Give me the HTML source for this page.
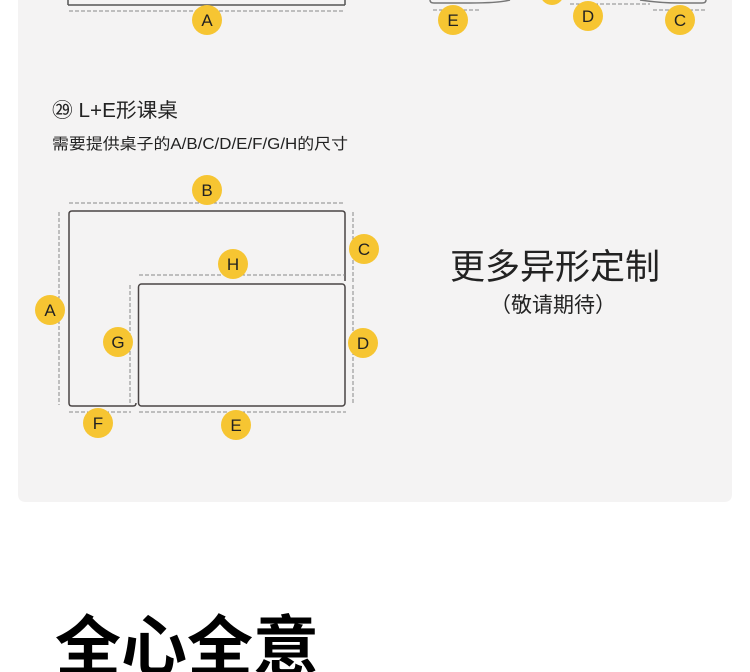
<!DOCTYPE html>
<html><head><meta charset="utf-8"><style>
html,body{margin:0;padding:0;background:#fff;width:750px;height:672px;overflow:hidden}
svg{display:block}
</style></head><body>
<svg width="750" height="672" viewBox="0 0 750 672" xmlns="http://www.w3.org/2000/svg" font-family="Liberation Sans, Noto Sans CJK SC, sans-serif">
<path d="M18,0 H732 V494 q0,8 -8,8 H26 q-8,0 -8,-8 Z" fill="#f4f3f3"/>
<g stroke="#555" fill="none">
<line x1="68" y1="5" x2="345" y2="5" stroke-width="1.5"/>
<line x1="68" y1="0" x2="68" y2="5" stroke-width="1.5"/>
<line x1="345" y1="0" x2="345" y2="5" stroke-width="1.5"/>
</g>
<g stroke="#888" stroke-dasharray="4,2" fill="none">
<line x1="69" y1="11" x2="345" y2="11"/>
<line x1="433" y1="10" x2="480" y2="10"/>
<line x1="653" y1="10" x2="707" y2="10"/>
<line x1="570" y1="4" x2="650" y2="4"/>
</g>
<path d="M430,0 q0,3 4,3 H470 q30,0 40,-3 M640,0 q20,3 40,3 H702 q4,0 4,-3" stroke="#777" fill="none" stroke-width="1.5"/>
<g stroke="#4a4545" fill="none" stroke-width="1.5">
<path d="M136,403 q0,3 -3,3 H72 q-3,0 -3,-3 V214 q0,-3 3,-3 H342 q3,0 3,3 V281"/>
<rect x="138.5" y="284" width="206.5" height="122" rx="3"/>
</g>
<g stroke="#888" stroke-dasharray="4,2" fill="none">
<line x1="69" y1="203" x2="345" y2="203"/>
<line x1="59" y1="212" x2="59" y2="405"/>
<line x1="353" y1="212" x2="353" y2="283"/>
<line x1="353" y1="285" x2="353" y2="405"/>
<line x1="139" y1="275" x2="345" y2="275"/>
<line x1="130" y1="285" x2="130" y2="405"/>
<line x1="69" y1="412" x2="131" y2="412"/>
<line x1="139" y1="412" x2="346" y2="412"/>
</g>
<g fill="#f6c532">
<circle cx="207" cy="20" r="15"/><circle cx="453" cy="20" r="15"/><circle cx="588" cy="16" r="15"/><circle cx="680" cy="20" r="15"/><circle cx="552" cy="-7" r="12"/>
<circle cx="207" cy="190" r="15"/><circle cx="364" cy="249" r="15"/><circle cx="233" cy="264" r="15"/><circle cx="50" cy="310" r="15"/>
<circle cx="118" cy="342" r="15"/><circle cx="363" cy="343" r="15"/><circle cx="98" cy="423" r="15"/><circle cx="236" cy="425" r="15"/>
</g>
<g font-size="17" fill="#222" text-anchor="middle">
<text x="207" y="26">A</text><text x="453" y="26">E</text><text x="588" y="22">D</text><text x="680" y="26">C</text>
<text x="207" y="196">B</text><text x="364" y="255">C</text><text x="233" y="270">H</text><text x="50" y="316">A</text>
<text x="118" y="348">G</text><text x="363" y="349">D</text><text x="98" y="429">F</text><text x="236" y="431">E</text>
</g>
<text x="52" y="117" font-size="20" fill="#222" textLength="126" lengthAdjust="spacingAndGlyphs">㉙ L+E形课桌</text>
<text x="52" y="149" font-size="15.5" fill="#222" textLength="296" lengthAdjust="spacingAndGlyphs">需要提供桌子的A/B/C/D/E/F/G/H的尺寸</text>
<text x="555" y="279" font-size="35" fill="#222" text-anchor="middle">更多异形定制</text>
<text x="553" y="312" font-size="21" fill="#222" text-anchor="middle">（敬请期待）</text>
<text x="55" y="670" font-size="66" font-weight="bold" fill="#000">全心全意</text>
</svg>
</body></html>
